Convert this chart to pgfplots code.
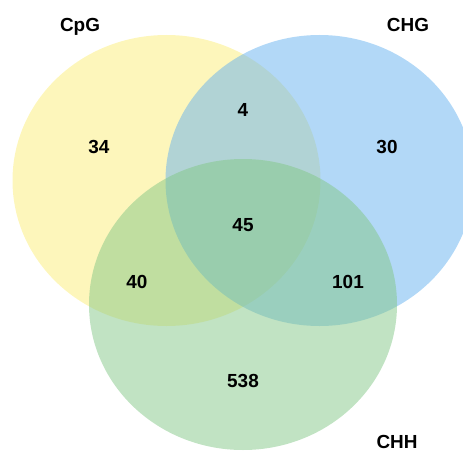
\documentclass[border=0pt]{standalone}
\usepackage{pgfplots}
\pgfplotsset{compat=1.18}
\usepackage{fontspec}
\setmainfont{Liberation Sans}
\definecolor{cyel}{RGB}{251,237,119}
\definecolor{cblu}{RGB}{101,177,239}
\definecolor{cgrn}{RGB}{131,199,135}
\begin{document}
\begin{tikzpicture}
\begin{axis}[
  scale only axis, width=463bp, height=452bp,
  xmin=0, xmax=463, ymin=0, ymax=452, y dir=reverse,
  hide axis, clip=true,
]
\fill[cyel, opacity=0.5] (axis cs:166.5,180.5) ellipse [x radius=154, y radius=145.5];
\fill[cblu, opacity=0.5] (axis cs:319.5,180.5) ellipse [x radius=154, y radius=145.5];
\fill[cgrn, opacity=0.5] (axis cs:243,304.5) ellipse [x radius=154, y radius=145.5];
\addplot[only marks, mark=none, nodes near coords, point meta=explicit symbolic,
  every node near coord/.style={anchor=base, inner sep=0pt, font=\fontsize{19}{21}\selectfont\bfseries, text=black}]
  table[meta=label] {
x y label
80 32 CpG
408 32 CHG
397 448 CHH
99 153 34
243 116 4
387 153 30
243 231 45
137 288 40
348 288 101
243 387 538
};
\end{axis}
\path (current axis.south west) rectangle (current axis.north east);
\end{tikzpicture}
\end{document}
